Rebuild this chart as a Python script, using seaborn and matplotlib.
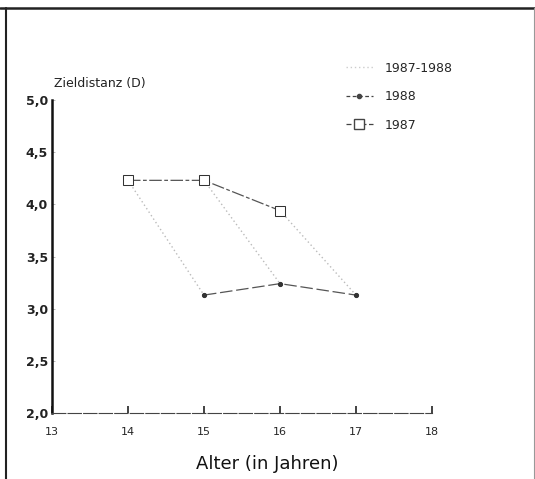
import numpy as np
import pandas as pd
import seaborn as sns
import matplotlib.pyplot as plt
from matplotlib.lines import Line2D

# Data
ages_1987 = [14, 15, 16]
dist_1987 = [4.23, 4.23, 3.94]
ages_1988 = [15, 16, 17]
dist_1988 = [3.13, 3.24, 3.13]
y_ticks = [2.0, 2.5, 3.0, 3.5, 4.0, 4.5, 5.0]
y_labels = ["2,0", "2,5", "3,0", "3,5", "4,0", "4,5", "5,0"]
x_ticks = [13, 14, 15, 16, 17, 18]

df87 = pd.DataFrame({"age": ages_1987, "dist": dist_1987})
df88 = pd.DataFrame({"age": ages_1988, "dist": dist_1988})

# 1987-1988: same cohort followed one year later
rows = []
for i, (a, d) in enumerate(zip(ages_1987, dist_1987)):
    rows.append((i, a, d))
    rows.append((i, ages_1988[i], dist_1988[i]))
dfc = pd.DataFrame(rows, columns=["cohort", "age", "dist"])

sns.set_style("white")
plt.rcParams['font.family'] = ['DejaVu Sans']

fig = plt.figure(figsize=(5.35, 4.79), dpi=100)
ax = fig.add_axes([0.0972, 0.1378, 0.7103, 0.6534])

sns.lineplot(data=dfc, x="age", y="dist", units="cohort", estimator=None,
             color="#bbbbbb", linestyle=(0, (1, 2)), linewidth=1, ax=ax)
sns.lineplot(data=df87, x="age", y="dist", color="#555555", linewidth=0.9,
             linestyle=(0, (10, 2, 3, 2)), marker="s", markersize=7,
             markerfacecolor="white", markeredgecolor="#333333", ax=ax)
sns.lineplot(data=df88, x="age", y="dist", color="#555555", linewidth=0.9,
             linestyle=(0, (10, 3)), marker="o", markersize=3,
             markerfacecolor="#333333", markeredgecolor="#333333", ax=ax)

ax.set_xlim(13, 18)
ax.set_ylim(2, 5)
ax.set_xticks(x_ticks)
ax.set_xticklabels([str(t) for t in x_ticks], fontsize=8)
ax.set_yticks(y_ticks)
ax.set_yticklabels(y_labels, fontsize=9, fontweight="bold", color="#222222")
ax.tick_params(axis="x", bottom=True, direction="in", length=5, width=1.2,
               color="#222222", pad=10)
ax.tick_params(axis="y", left=True, direction="in", length=2, width=0.6,
               color="#aaaaaa", pad=3)
ax.set_xlabel("")
ax.set_ylabel("")

for s in ["top", "right"]:
    ax.spines[s].set_visible(False)
ax.spines["left"].set_color("#111111")
ax.spines["left"].set_linewidth(1.8)
ax.spines["bottom"].set_color("#444444")
ax.spines["bottom"].set_linewidth(0.8)
ax.spines["bottom"].set_linestyle((0, (12, 2)))

ax.text(13.02, 5.1, "Zieldistanz (D)", fontsize=9, ha="left", va="bottom",
        color="#222222")

fig.text(0.50, 0.012, "Alter (in Jahren)", fontsize=13, ha="center",
         va="bottom", color="#111111")

handles = [
    Line2D([], [], color="#cccccc", linestyle=(0, (1, 2)), linewidth=1),
    Line2D([], [], color="#444444", linestyle=(0, (3, 2)), linewidth=0.9,
           marker="o", markersize=3),
    Line2D([], [], color="#444444", linestyle=(0, (4, 2)), linewidth=0.9,
           marker="s", markersize=7, markerfacecolor="white"),
]
labels = ["1987-1988", "1988", "1987"]
fig.legend(handles, labels, loc="upper left", bbox_to_anchor=(0.625, 0.895),
           frameon=False, fontsize=9, handlelength=2.2, labelspacing=1.25,
           handletextpad=0.9)

# scanned page frame
fig.add_artist(Line2D([0.011, 0.011], [0, 0.983], color="#222222", linewidth=1.5,
                      transform=fig.transFigure))
fig.add_artist(Line2D([0, 1], [0.983, 0.983], color="#222222", linewidth=1.8,
                      transform=fig.transFigure))
fig.add_artist(Line2D([0.998, 0.998], [0, 0.983], color="#999999", linewidth=0.8,
                      transform=fig.transFigure))

fig.savefig("out.png", dpi=100)
